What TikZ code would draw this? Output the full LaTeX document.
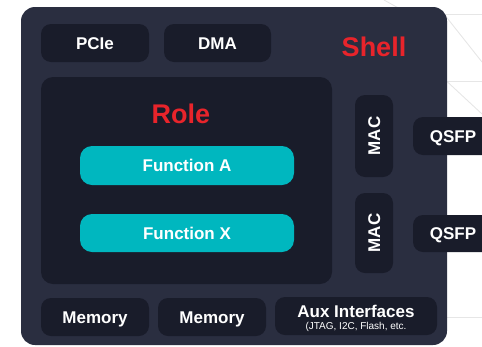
\documentclass[tikz,border=0pt]{standalone}
\usepackage{fontspec}
\setmainfont{Liberation Sans}
\usetikzlibrary{positioning}
\definecolor{shellbg}{HTML}{2A2E40}
\definecolor{blockbg}{HTML}{191C2A}
\definecolor{teal}{HTML}{00B7BF}
\definecolor{labelred}{HTML}{E8242B}
\definecolor{gridline}{HTML}{E6E6E6}
\tikzset{
  block/.style={fill=blockbg, rounded corners=10pt, inner sep=0pt,
    text=white, font=\bfseries\fontsize{17}{20}\selectfont, align=center,
    text height=12.3pt, text depth=0pt},
  funcbox/.style={block, fill=teal, rounded corners=12pt},
  title/.style={text=labelred, font=\bfseries\fontsize{27}{30}\selectfont, inner sep=0pt},
  mesh/.style={draw=gridline, line width=0.9pt}
}
\begin{document}
\begin{tikzpicture}[x=1pt, y=-1pt]
  \useasboundingbox (0,0) rectangle (482,346);
  \clip (0,0) rectangle (482,346);
  % faint background mesh
  \draw[mesh] (384,0) -- (402,10);
  \draw[mesh] (440,14) -- (482,14);
  \draw[mesh] (440,9) -- (482,62);
  \draw[mesh] (440,81) -- (482,81);
  \draw[mesh] (440,75) -- (482,114);
  \draw[mesh] (440,317) -- (482,317);
  % shell
  \node[fill=shellbg, rounded corners=14pt, minimum width=426pt, minimum height=338pt,
        inner sep=0pt] (shell) at (234,176) {};
  \node[title] (shelltitle) at (374,47) {Shell};
  % top blocks
  \node[block, minimum width=108pt, minimum height=38pt] (pcie) at (95,43) {PCIe};
  \node[block, minimum width=107pt, minimum height=38pt] (dma) at (217.5,43) {DMA};
  % role region
  \node[block, rounded corners=12pt, minimum width=291pt, minimum height=207pt] (role) at (186.5,180.5) {};
  \node[title] (roletitle) at (181,114) {Role};
  \node[funcbox, minimum width=214pt, minimum height=39pt] (funca) at (187,165.5) {Function A};
  \node[funcbox, minimum width=214pt, minimum height=38pt] (funcx) at (187,233) {Function X};
  % network side
  \node[block, rotate=90, minimum width=82pt, minimum height=38pt] (mac1) at (374,136) {MAC};
  \node[block, rotate=90, minimum width=80pt, minimum height=38pt] (mac2) at (374,233) {MAC};
  \node[block, minimum width=80pt, minimum height=38pt] (qsfp1) at (453,136) {QSFP};
  \node[block, minimum width=80pt, minimum height=37pt] (qsfp2) at (453,233.5) {QSFP};
  % bottom blocks
  \node[block, minimum width=108pt, minimum height=38pt] (mem1) at (95,317) {Memory};
  \node[block, minimum width=108pt, minimum height=38pt] (mem2) at (212,317) {Memory};
  \node[block, minimum width=162pt, minimum height=38pt] (aux) at (356,316) {};
  \node[text=white, font=\bfseries\fontsize{17}{20}\selectfont, inner sep=0pt,
        text height=12.3pt, text depth=0pt] (auxtitle) at (356,311) {Aux Interfaces};
  \node[text=white, font=\fontsize{10}{12}\selectfont, inner sep=0pt] (auxsub) at (356,326.5) {(JTAG, I2C, Flash, etc.};
\end{tikzpicture}
\end{document}
